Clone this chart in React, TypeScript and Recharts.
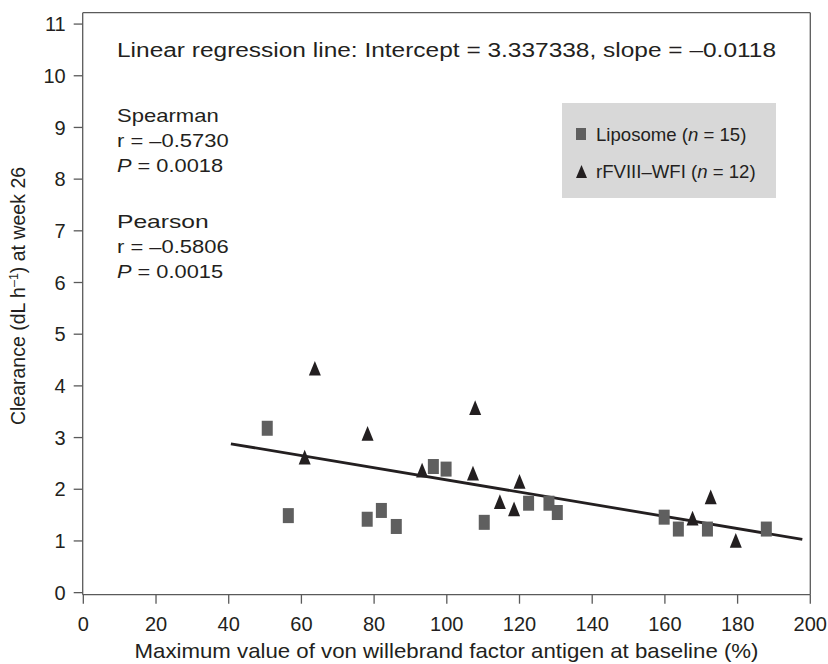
import { ScatterChart, Scatter, XAxis, YAxis, ReferenceLine, Customized } from "recharts";

// Liposome group (grey squares)
const liposomeX = [50.6, 56.4, 78.1, 82.0, 86.1, 96.3, 99.8, 110.3, 122.5, 128.1, 130.4, 159.8, 163.7, 171.7, 187.9];
const liposomeY = [3.18, 1.49, 1.42, 1.59, 1.28, 2.44, 2.39, 1.36, 1.73, 1.73, 1.55, 1.46, 1.23, 1.23, 1.23];

// rFVIII-WFI group (black triangles)
const rfviiiX = [60.9, 63.7, 78.2, 93.2, 107.2, 107.8, 114.6, 118.5, 120.0, 167.6, 172.6, 179.5];
const rfviiiY = [2.62, 4.34, 3.08, 2.37, 2.31, 3.58, 1.76, 1.62, 2.15, 1.44, 1.85, 1.01];

// regression line end points as drawn
const regX = [40.6, 197.8];
const regY = [2.88, 1.03];

const xTicks = [0, 20, 40, 60, 80, 100, 120, 140, 160, 180, 200];
const yTicks = [0, 1, 2, 3, 4, 5, 6, 7, 8, 9, 10, 11];

const liposome = liposomeX.map((x, i) => ({ x, y: liposomeY[i] }));
const rfviii = rfviiiX.map((x, i) => ({ x, y: rfviiiY[i] }));

const FONT = "'Liberation Sans', Arial, Helvetica, sans-serif";
const INK = "#231f20";
const AXIS = "#5a5a5a";
const SQUARE = "#5f5f5f";

const Square = (props: any) => {
  const { cx, cy } = props;
  if (cx == null || cy == null) return null;
  return <rect x={cx - 5.5} y={cy - 7.5} width={11} height={15} fill={SQUARE} />;
};

const Triangle = (props: any) => {
  const { cx, cy } = props;
  if (cx == null || cy == null) return null;
  return <path d={`M${cx},${cy - 7.4}L${cx + 6},${cy + 7.3}L${cx - 6},${cy + 7.3}Z`} fill={INK} />;
};

const stretch = { lengthAdjust: "spacingAndGlyphs" as const };

const Overlay = () => (
  <g fontFamily={FONT} fill={INK} fontSize={18.6}>
    <text x={117} y={57} fontSize={20} textLength={659} {...stretch}>
      Linear regression line:  Intercept = 3.337338, slope = –0.0118
    </text>

    <text x={117} y={121.7} textLength={101.7} {...stretch}>Spearman</text>
    <text x={117} y={146.7} textLength={111.7} {...stretch}>r = –0.5730</text>
    <text x={117} y={171.7} textLength={106} {...stretch}>
      <tspan fontStyle="italic">P</tspan> = 0.0018
    </text>
    <text x={117} y={227.7} textLength={91.7} {...stretch}>Pearson</text>
    <text x={117} y={252.7} textLength={111.7} {...stretch}>r = –0.5806</text>
    <text x={117} y={277.7} textLength={106} {...stretch}>
      <tspan fontStyle="italic">P</tspan> = 0.0015
    </text>

    {/* legend box */}
    <rect x={562} y={103} width={214} height={95} fill="#d8d8d8" />
    <rect x={576} y={128} width={10} height={12} fill={SQUARE} />
    <text x={596} y={140.7}>
      Liposome (<tspan fontStyle="italic">n</tspan> = 15)
    </text>
    <path d="M581.5,165L587,178L576,178Z" fill={INK} />
    <text x={596} y={177.7}>
      rFVIII–WFI (<tspan fontStyle="italic">n</tspan> = 12)
    </text>

    {/* axis titles */}
    <text x={446.5} y={658} textAnchor="middle" fontSize={21} textLength={624} {...stretch}>
      Maximum value of von willebrand factor antigen at baseline (%)
    </text>
    <text x={0} y={0} textAnchor="middle" fontSize={19.5} transform="translate(25,296) rotate(-90)">
      Clearance (dL h
      <tspan dy={-7} fontSize={12.5}>–1</tspan>
      <tspan dy={7}>) at week 26</tspan>
    </text>
  </g>
);

export default function App() {
  return (
    <div style={{ position: "absolute", left: 0, top: 0, background: "#fff" }}>
      <ScatterChart
        width={828}
        height={664}
        margin={{ top: 12.7, right: 17.7, bottom: 29.3, left: 22.7 }}
      >
        <XAxis
          type="number"
          dataKey="x"
          domain={[-0.17, 200]}
          ticks={xTicks}
          allowDataOverflow
          height={40}
          tickSize={9}
          tickMargin={13}
          stroke={AXIS}
          strokeWidth={1.3}
          tick={{ fill: INK, fontSize: 20, fontFamily: FONT }}
        />
        <YAxis
          type="number"
          dataKey="y"
          domain={[-0.04, 11.22]}
          ticks={yTicks}
          allowDataOverflow
          width={60}
          tickSize={9}
          tickMargin={8}
          stroke={AXIS}
          strokeWidth={1.3}
          tick={{ fill: INK, fontSize: 20, fontFamily: FONT }}
        />
        <ReferenceLine y={11.22} stroke={AXIS} strokeWidth={1.3} />
        <ReferenceLine x={200} stroke={AXIS} strokeWidth={1.3} />
        <ReferenceLine
          segment={[
            { x: regX[0], y: regY[0] },
            { x: regX[1], y: regY[1] },
          ]}
          stroke={INK}
          strokeWidth={2.8}
        />
        <Scatter name="Liposome" data={liposome} shape={Square} isAnimationActive={false} />
        <Scatter name="rFVIII–WFI" data={rfviii} shape={Triangle} isAnimationActive={false} />
        <Customized component={Overlay} />
      </ScatterChart>
    </div>
  );
}
